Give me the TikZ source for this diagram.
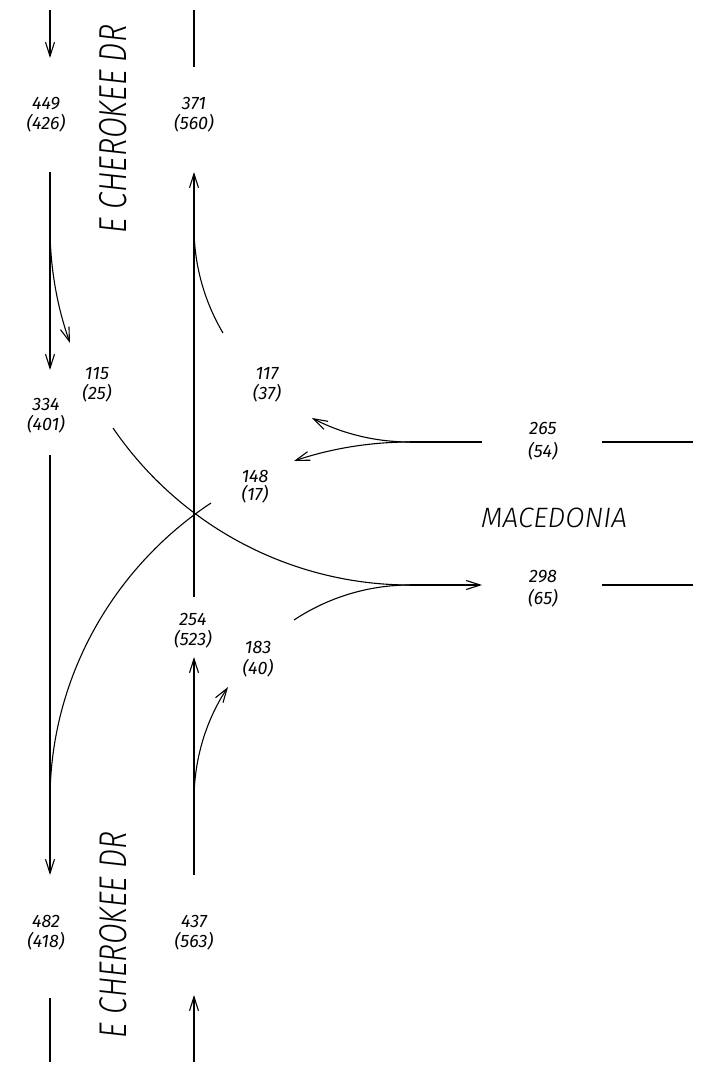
\documentclass[tikz,border=0pt]{standalone}
\usepackage{fontspec}
\usepackage{graphicx}
\setmainfont{Fira Sans}[UprightFont={* Light}, ItalicFont={* Light Italic}]
\newfontfamily\numfont{Fira Sans}
\usetikzlibrary{arrows.meta}
\begin{document}
\begin{tikzpicture}[x=1pt,y=-1pt]
\tikzset{
 road/.style={line width=1.1pt},
 mv/.style={line width=1.1pt, -{Straight Barb[length=14pt,width=9pt]}},
 num/.style={font=\numfont\fontsize{18}{20}\selectfont\itshape, inner sep=0pt, text height=12pt, text depth=0pt},
 street/.style={font=\fontsize{33}{36}\selectfont\itshape, inner sep=0pt, anchor=base},
}
\useasboundingbox[fill=white] (0,0) rectangle (702,1067);
% coordinates
\coordinate (nt1) at (50,10); \coordinate (nt2) at (50,58);
\coordinate (nt3) at (194,10); \coordinate (nt4) at (194,67);
\coordinate (sbA) at (50,172); \coordinate (sbB) at (50,370);
\coordinate (sbR0) at (50,227); \coordinate (sbR1) at (70,343);
\coordinate (nbA) at (194,597); \coordinate (nbB) at (194,172);
\coordinate (nbR0) at (194,227); \coordinate (nbR1) at (223,333);
\coordinate (sbL0) at (113,428);
\coordinate (eb0) at (410,585); \coordinate (eb1) at (482,585);
\coordinate (eb2) at (602,585); \coordinate (eb3) at (693,585);
\coordinate (wb0) at (410,442); \coordinate (wb1) at (482,442);
\coordinate (wb2) at (602,442); \coordinate (wb3) at (693,442);
\coordinate (wbR) at (312,418); \coordinate (wbT) at (294,461);
\coordinate (wbL0) at (211,503); \coordinate (wbL1) at (50,800);
\coordinate (sb2A) at (50,455); \coordinate (sb2B) at (50,875);
\coordinate (nb2A) at (194,875); \coordinate (nb2B) at (194,657);
\coordinate (nbR2) at (194,800); \coordinate (nbR3) at (228,687);
\coordinate (ebR0) at (294,620);
\coordinate (sb3A) at (50,998); \coordinate (sb3B) at (50,1062);
\coordinate (nb3A) at (194,1062); \coordinate (nb3B) at (194,995);
% roads and movements
\draw[mv] (nt1) -- (nt2);
\draw[road] (nt3) -- (nt4);
\draw[mv] (sbA) -- (sbB);
\draw[mv] (sbR0) .. controls (50,266.5) and (56.8,305.8) .. (sbR1);
\draw[mv] (nbA) -- (nbB);
\draw[road] (nbR0) .. controls (194,264.3) and (204,300.9) .. (nbR1);
\draw[road] (sbL0) .. controls (180,526) and (291,585) .. (eb0);
\draw[mv] (eb0) -- (eb1);
\draw[road] (eb2) -- (eb3);
\draw[road] (wb0) -- (wb1);
\draw[road] (wb2) -- (wb3);
\draw[mv] (wb0) .. controls (375.9,442) and (342.2,433.8) .. (wbR);
\draw[mv] (wb0) .. controls (370.6,442) and (331.4,448.4) .. (wbT);
\draw[road] (wbL0) .. controls (111.5,569) and (50,680) .. (wbL1);
\draw[mv] (sb2A) -- (sb2B);
\draw[mv] (nb2A) -- (nb2B);
\draw[mv] (nbR2) .. controls (194,759.8) and (205.8,720.5) .. (nbR3);
\draw[road] (ebR0) .. controls (328.4,597.2) and (368.7,585) .. (eb0);
\draw[road] (sb3A) -- (sb3B);
\draw[mv] (nb3A) -- (nb3B);
% volume labels
\node[num] (v449) at (46,104) {449};  \node[num] (p426) at (46,124) {(426)};
\node[num] (v371) at (194,104) {371}; \node[num] (p560) at (194,124) {(560)};
\node[num] (v115) at (97,373) {115};  \node[num] (p25) at (97,393) {(25)};
\node[num] (v334) at (46,404) {334};  \node[num] (p401) at (46,424) {(401)};
\node[num] (v117) at (267,373) {117}; \node[num] (p37) at (267,393) {(37)};
\node[num] (v148) at (255,476) {148}; \node[num] (p17) at (255,494) {(17)};
\node[num] (v265) at (543,428) {265}; \node[num] (p54) at (543,451) {(54)};
\node[num] (v298) at (543,576) {298}; \node[num] (p65) at (543,598) {(65)};
\node[num] (v254) at (193,619) {254}; \node[num] (p523) at (193,639) {(523)};
\node[num] (v183) at (258,647) {183}; \node[num] (p40) at (258,668) {(40)};
\node[num] (v482) at (46,921) {482};  \node[num] (p418) at (46,941) {(418)};
\node[num] (v437) at (194,921) {437}; \node[num] (p563) at (194,941) {(563)};
% street names
\node[street, rotate=90] (st1) at (126,129) {\resizebox{208pt}{!}{\scalebox{0.78}[1]{E CHEROKEE DR}}};
\node[street, rotate=90] (st2) at (126,935) {\resizebox{206pt}{!}{\scalebox{0.78}[1]{E CHEROKEE DR}}};
\node[street, font=\fontsize{30}{34}\selectfont\itshape] (st3) at (554,527) {\resizebox{146pt}{!}{MACEDONIA}};
\end{tikzpicture}
\end{document}
